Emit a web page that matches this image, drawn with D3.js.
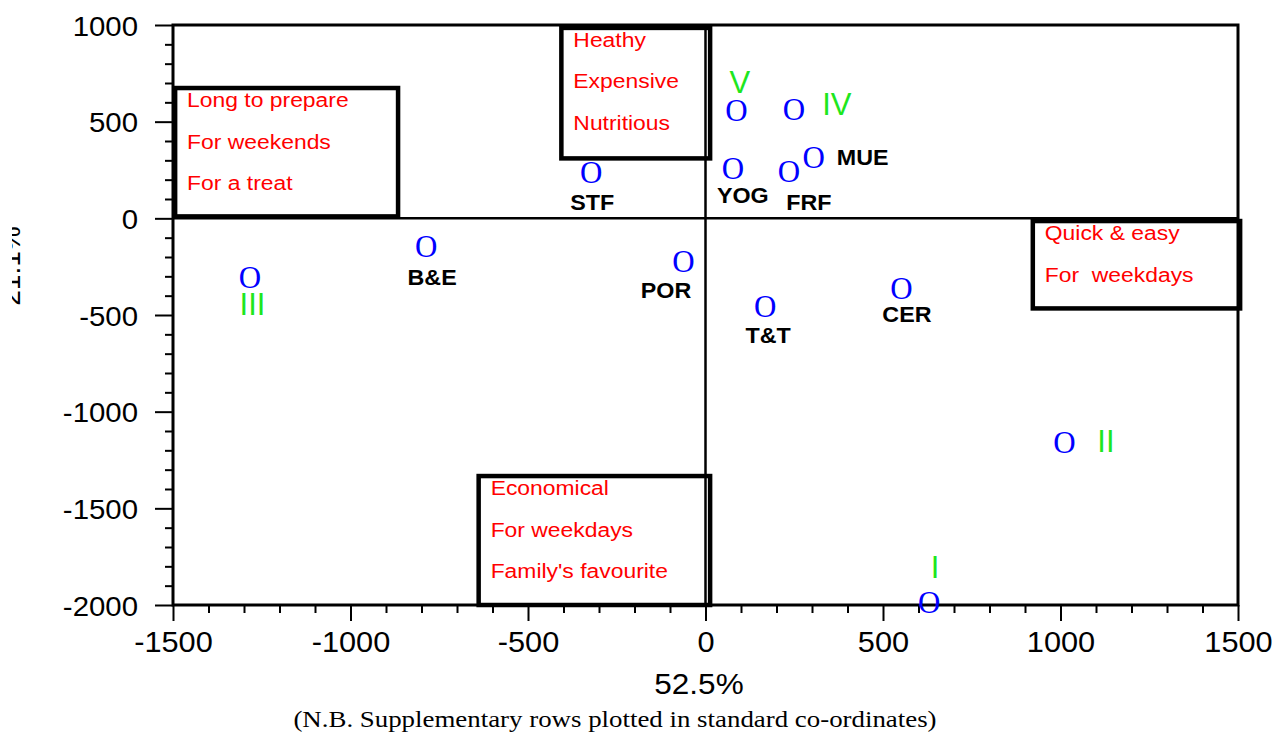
<!DOCTYPE html>
<html>
<head>
<meta charset="utf-8">
<script src="https://cdn.jsdelivr.net/npm/d3@7"></script>
<style>
  html, body { margin: 0; padding: 0; background: #fff; }
  svg { display: block; }
  .sx { transform-box: fill-box; }
</style>
</head>
<body>
<svg id="chart" width="1281" height="734" font-family="Arial, 'Liberation Sans', sans-serif"></svg>
<script>
// Correspondence analysis map: active rows (products) and supplementary rows (I–V)
const rowLabels = ["STF", "YOG", "FRF", "MUE", "B&E", "POR", "T&T", "CER"];
const rowX      = [-322,   77,    235,   305,   -787,  -62,   168,   552];
const rowY      = [ 235,   257,   240,   315,   -148,  -221,  -457,  -365];

const suppLabels = ["V", "IV", "III", "II", "I"];
const suppX      = [ 87,  249, -1283, 1011,  630];
const suppY      = [560,  565,  -306, -1162, -1987];

// Attribute regions (x0, x1, y0, y1 in map units) and their descriptions
const regionText = [
  ["Long to prepare", "For weekends", "For a treat"],
  ["Heathy", "Expensive", "Nutritious"],
  ["Quick & easy", "For  weekdays"],
  ["Economical", "For weekdays", "Family's favourite"]
];
const regionX0 = [-1494, -406,  922, -639];
const regionX1 = [ -866,   13, 1506,   13];
const regionY0 = [   10,  310, -466, -2000];
const regionY1 = [  674,  985,  -14, -1333];

const xTicks = [-1500, -1000, -500, 0, 500, 1000, 1500];
const yTicks = [1000, 500, 0, -500, -1000, -1500, -2000];
const xTitle = "52.5%";
const yTitle = "21.1%";
const footnote = "(N.B. Supplementary rows plotted in standard co-ordinates)";

// ---- layout ----
const margin = { left: 173, top: 25, right: 43, bottom: 129 };
const W = 1281, H = 734;
const iw = W - margin.left - margin.right;   // 1065
const ih = H - margin.top - margin.bottom;   // 580

const svg = d3.select("#chart");
const x = d3.scaleLinear().domain([-1500, 1500]).range([margin.left, margin.left + iw]);
const y = d3.scaleLinear().domain([-2000, 1000]).range([margin.top + ih, margin.top]);

const SERIF = "'Liberation Serif', 'Times New Roman', serif";
const plain = d => String(d);   // ASCII hyphen for negatives

// horizontally widened text helper
function widen(sel, s, origin) {
  sel.classed("sx", true)
     .style("transform-origin", origin || "center")
     .style("transform", `scaleX(${s})`);
  return sel;
}

// minor ticks every 100
const xMinor = d3.range(-1500, 1501, 100).filter(v => !xTicks.includes(v));
const yMinor = d3.range(-2000, 1001, 100).filter(v => !yTicks.includes(v));

const gxMinor = svg.append("g")
  .attr("transform", `translate(0,${margin.top + ih})`)
  .call(d3.axisBottom(x).tickValues(xMinor).tickSize(8).tickFormat(""));
const gx = svg.append("g")
  .attr("transform", `translate(0,${margin.top + ih})`)
  .call(d3.axisBottom(x).tickValues(xTicks).tickSize(16).tickPadding(4).tickFormat(plain));
const gyMinor = svg.append("g")
  .attr("transform", `translate(${margin.left},0)`)
  .call(d3.axisLeft(y).tickValues(yMinor).tickSize(8).tickFormat(""));
const gy = svg.append("g")
  .attr("transform", `translate(${margin.left},0)`)
  .call(d3.axisLeft(y).tickValues(yTicks).tickSize(18).tickPadding(17).tickFormat(plain));

[gx, gy, gxMinor, gyMinor].forEach(g => {
  g.attr("font-family", null).attr("font-size", null);
  g.select(".domain").remove();
  g.selectAll(".tick line").attr("stroke", "#000").attr("stroke-width", 2);
});
gx.selectAll(".tick text")
  .attr("font-size", 29).attr("fill", "#000")
  .attr("dy", 0).attr("y", 47);
widen(gx.selectAll(".tick text"), 1.06, "center");
gy.selectAll(".tick text")
  .attr("font-size", 28).attr("fill", "#000")
  .attr("dy", "0.36em");
widen(gy.selectAll(".tick text"), 1.05, "right");

// plot frame
svg.append("rect")
  .attr("x", x(-1500)).attr("y", y(1000))
  .attr("width", x(1500) - x(-1500)).attr("height", y(-2000) - y(1000))
  .attr("fill", "none").attr("stroke", "#000").attr("stroke-width", 3);

// zero axes
svg.append("line")
  .attr("x1", x(-1500)).attr("x2", x(1500)).attr("y1", y(0)).attr("y2", y(0))
  .attr("stroke", "#000").attr("stroke-width", 2.5);
svg.append("line")
  .attr("x1", x(0)).attr("x2", x(0)).attr("y1", y(1000)).attr("y2", y(-2000))
  .attr("stroke", "#000").attr("stroke-width", 2.5);

// attribute region boxes
const regions = regionText.map((t, i) => ({
  text: t, x0: regionX0[i], x1: regionX1[i], y0: regionY0[i], y1: regionY1[i]
}));
const rg = svg.append("g").selectAll("g").data(regions).join("g");
rg.append("rect")
  .attr("x", d => x(d.x0)).attr("y", d => y(d.y1))
  .attr("width", d => x(d.x1) - x(d.x0)).attr("height", d => y(d.y0) - y(d.y1))
  .attr("fill", "none").attr("stroke", "#000").attr("stroke-width", 4.5);
rg.each(function(d) {
  const g = d3.select(this);
  d.text.forEach((line, j) => {
    const t = g.append("text")
      .attr("x", x(d.x0) + 12)
      .attr("y", y(d.y1) + 19 + j * 41.5)
      .attr("font-size", 21).attr("fill", "#ff0000")
      .style("white-space", "pre")
      .text(line);
    widen(t, 1.09, "left");
  });
});

// label placement around each point: [dx, dy, anchor]
const rowOffsets = {
  "STF": [1, 37, "middle"], "YOG": [10, 34, "middle"], "FRF": [20, 38, "middle"],
  "MUE": [23, 7.5, "start"], "B&E": [6, 38, "middle"], "POR": [-17.5, 37, "middle"],
  "T&T": [3, 36, "middle"], "CER": [5.5, 33, "middle"]
};
const suppOffsets = {
  "V": [3.5, -17], "IV": [43, 6], "III": [2.5, 38], "II": [41.5, 9], "I": [6, -24.5]
};

const rows = rowLabels.map((l, i) => ({ label: l, x: rowX[i], y: rowY[i] }));
const supp = suppLabels.map((l, i) => ({ label: l, x: suppX[i], y: suppY[i] }));

function marker(sel) {
  sel.append("text")
    .attr("x", d => x(d.x)).attr("y", d => y(d.y))
    .attr("dy", 10.5)
    .attr("text-anchor", "middle")
    .attr("font-family", SERIF)
    .attr("font-size", 31).attr("fill", "#0000ff")
    .text("O");
}

const pr = svg.append("g").selectAll("g").data(rows).join("g");
marker(pr);
pr.append("text")
  .attr("x", d => x(d.x) + rowOffsets[d.label][0])
  .attr("y", d => y(d.y) + rowOffsets[d.label][1])
  .attr("text-anchor", d => rowOffsets[d.label][2])
  .attr("font-size", 22).attr("font-weight", "bold").attr("fill", "#000")
  .text(d => d.label)
  .each(function(d) { widen(d3.select(this), 1.06, rowOffsets[d.label][2] === "start" ? "left" : "center"); });

const ps = svg.append("g").selectAll("g").data(supp).join("g");
marker(ps);
ps.append("text")
  .attr("x", d => x(d.x) + suppOffsets[d.label][0])
  .attr("y", d => y(d.y) + suppOffsets[d.label][1])
  .attr("text-anchor", "middle")
  .attr("font-size", 31).attr("fill", "#1ee61e")
  .text(d => d.label);

// axis titles
widen(svg.append("text")
  .attr("x", 699).attr("y", 694)
  .attr("text-anchor", "middle").attr("font-size", 30).attr("fill", "#000")
  .text(xTitle), 1.05, "center");

// vertical title sits in a narrow strip at the left edge
svg.append("clipPath").attr("id", "ytitle-clip")
  .append("rect").attr("x", 12).attr("y", 0).attr("width", 40).attr("height", H);
svg.append("g").attr("clip-path", "url(#ytitle-clip)")
  .append("text")
  .attr("transform", "translate(19.5,266) rotate(-90)")
  .attr("text-anchor", "middle").attr("font-size", 28).attr("fill", "#000")
  .text(yTitle);

// note
widen(svg.append("text")
  .attr("x", 615).attr("y", 727)
  .attr("text-anchor", "middle")
  .attr("font-family", SERIF)
  .attr("font-size", 24).attr("fill", "#000")
  .text(footnote), 1.12, "center");
</script>
</body>
</html>
